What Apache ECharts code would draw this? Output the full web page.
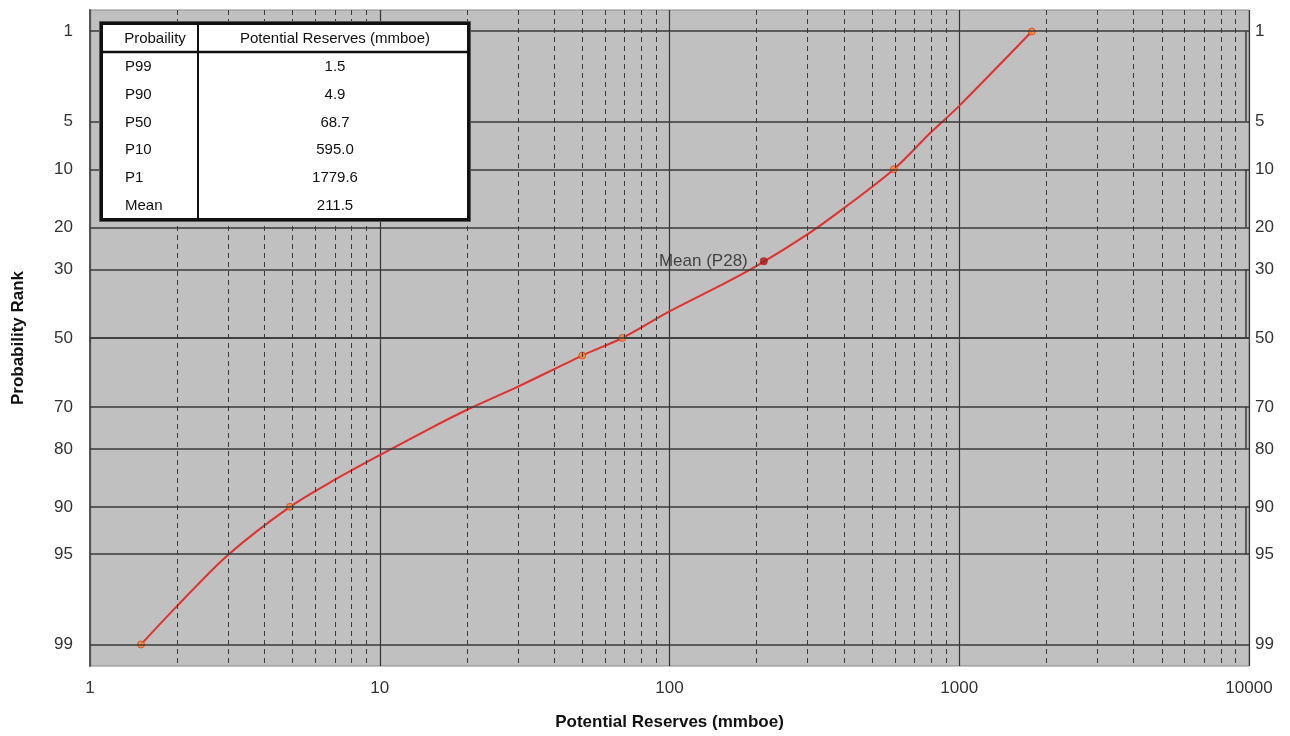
<!DOCTYPE html>
<html>
<head>
<meta charset="utf-8">
<script src="https://cdn.jsdelivr.net/npm/echarts@6/dist/echarts.min.js"></script>
<style>
html,body{margin:0;padding:0;background:#fff;}
#chart{width:1290px;height:736px;}
</style>
</head>
<body>
<div id="chart"></div>
<script>
// ---------- data ----------
const probTicks = [1, 5, 10, 20, 30, 50, 70, 80, 90, 95, 99];
const curveX = [1.5, 2, 3, 4.9, 7, 10, 15, 20, 30, 50, 68.7, 100, 150, 200, 300, 400, 595, 800, 1000, 1779.6];
const curveP = [99, 97.9, 95.0, 90, 85.9, 81.3, 75.3, 70.7, 64.4, 55.3, 50, 42.0, 34.5, 29.2, 21.5, 16.2, 10, 5.9, 3.9, 1];
const keyX = [1.5, 4.9, 50, 68.7, 595, 1779.6];
const keyP = [99, 90, 55.3, 50, 10, 1];
const meanX = 211.5;
const meanP = 28;
const meanLabel = 'Mean (P28)';
const xMinorMultipliers = [2, 3, 4, 5, 6, 7, 8, 9];
const xDecades = [1, 10, 100, 1000];
const rightStepPairs = [[1, 5], [10, 20], [30, 50], [70, 80], [90, 95]];
const tableHeaders = ['Probaility', 'Potential Reserves (mmboe)'];
const tableRows = ['P99', 'P90', 'P50', 'P10', 'P1', 'Mean'];
const tableValues = ['1.5', '4.9', '68.7', '595.0', '1779.6', '211.5'];

// ---------- probability scale (inverse normal) ----------
function invNorm(p) {
  const a=[-3.969683028665376e+01,2.209460984245205e+02,-2.759285104469687e+02,1.383577518672690e+02,-3.066479806614716e+01,2.506628277459239e+00];
  const b=[-5.447609879822406e+01,1.615858368580409e+02,-1.556989798598866e+02,6.680131188771972e+01,-1.328068155288572e+01];
  const c=[-7.784894002430293e-03,-3.223964580411365e-01,-2.400758277161838e+00,-2.549732539343734e+00,4.374664141464968e+00,2.938163982698783e+00];
  const d=[7.784695709041462e-03,3.224671290700398e-01,2.445134137142996e+00,3.754408661907416e+00];
  const pl=0.02425; let q,r;
  if(p<pl){q=Math.sqrt(-2*Math.log(p));return (((((c[0]*q+c[1])*q+c[2])*q+c[3])*q+c[4])*q+c[5])/((((d[0]*q+d[1])*q+d[2])*q+d[3])*q+1);}
  if(p<=1-pl){q=p-0.5;r=q*q;return (((((a[0]*r+a[1])*r+a[2])*r+a[3])*r+a[4])*r+a[5])*q/(((((b[0]*r+b[1])*r+b[2])*r+b[3])*r+b[4])*r+1);}
  q=Math.sqrt(-2*Math.log(1-p));
  return -(((((c[0]*q+c[1])*q+c[2])*q+c[3])*q+c[4])*q+c[5])/((((d[0]*q+d[1])*q+d[2])*q+d[3])*q+1);
}
const Z = p => invNorm(p / 100);
const zTicks = probTicks.map(Z);
function tickLabel(v) {
  for (let i = 0; i < zTicks.length; i++) if (Math.abs(zTicks[i] - v) < 1e-6) return String(probTicks[i]);
  return '';
}

const FONT = 'Liberation Sans, Arial, sans-serif';
const GRID = {left: 90, right: 41, top: 10, bottom: 69};

const minorVals = [];
xDecades.forEach(d => xMinorMultipliers.forEach(m => minorVals.push(m * d)));
const XSTEP = 9770;

// ---------- table graphic ----------
const tX = 101.5, tY = 23.5, tW = 367, tH = 196, colX = 198, headY = 52, rowH = 27.7, row0 = 67;
const graphics = [
  {type:'rect', shape:{x:tX-2, y:tY-2, width:tW+4, height:tH+4}, style:{fill:'none', stroke:'#555', lineWidth:1}, z:10},
  {type:'rect', shape:{x:tX, y:tY, width:tW, height:tH}, style:{fill:'#fff', stroke:'#111', lineWidth:3}, z:10},
  {type:'line', shape:{x1:tX, y1:headY, x2:tX+tW, y2:headY}, style:{stroke:'#111', lineWidth:2.5}, z:11},
  {type:'line', shape:{x1:colX, y1:tY, x2:colX, y2:tY+tH}, style:{stroke:'#111', lineWidth:2}, z:11},
  {type:'text', x:155, y:39, style:{text:tableHeaders[0], font:'15px ' + FONT, fill:'#111', align:'center', verticalAlign:'middle'}, z:12},
  {type:'text', x:335, y:39, style:{text:tableHeaders[1], font:'15px ' + FONT, fill:'#111', align:'center', verticalAlign:'middle'}, z:12}
];
tableRows.forEach((r, i) => {
  graphics.push({type:'text', x:125, y:row0 + i*rowH, style:{text:r, font:'15px ' + FONT, fill:'#111', align:'left', verticalAlign:'middle'}, z:12});
  graphics.push({type:'text', x:335, y:row0 + i*rowH, style:{text:tableValues[i], font:'15px ' + FONT, fill:'#111', align:'center', verticalAlign:'middle'}, z:12});
});

const chart = echarts.init(document.getElementById('chart'));
chart.setOption({
  animation: false,
  backgroundColor: '#fff',
  grid: Object.assign({show: true, backgroundColor: '#c0c0c0', borderColor: '#8a8a8a', borderWidth: 1}, GRID),
  xAxis: {
    type: 'log', logBase: 10, min: 1, max: 10000,
    name: 'Potential Reserves (mmboe)', nameLocation: 'middle', nameGap: 48,
    nameTextStyle: {fontFamily: FONT, fontSize: 17, fontWeight: 'bold', color: '#111'},
    axisLine: {show: true, lineStyle: {color: '#555', width: 2}},
    axisTick: {show: true, length: 5, lineStyle: {color: '#444'}},
    axisLabel: {fontFamily: FONT, fontSize: 17, color: '#333', margin: 14, formatter: v => String(v)},
    splitLine: {show: true, lineStyle: {color: '#333', width: 1.2}},
    minorTick: {show: false}, minorSplitLine: {show: false}
  },
  yAxis: [{
    type: 'value', min: -2.49, max: 2.49, inverse: true, position: 'left',
    name: 'Probability Rank', nameLocation: 'middle', nameGap: 63, nameRotate: 90,
    nameTextStyle: {fontFamily: FONT, fontSize: 17, fontWeight: 'bold', color: '#111'},
    axisLine: {show: true, lineStyle: {color: '#555', width: 2}},
    axisTick: {show: false, customValues: zTicks},
    axisLabel: {customValues: zTicks, formatter: tickLabel, fontFamily: FONT, fontSize: 17, color: '#333', margin: 17},
    splitLine: {show: false}
  }, {
    type: 'value', min: -2.49, max: 2.49, inverse: true, position: 'right',
    axisLine: {show: false},
    axisTick: {show: false, customValues: zTicks},
    axisLabel: {customValues: zTicks, formatter: tickLabel, fontFamily: FONT, fontSize: 17, color: '#333', margin: 6},
    splitLine: {show: false}
  }],
  graphic: graphics,
  series: [
    {
      type: 'line', data: [], z: 1, silent: true,
      markLine: {
        silent: true, symbol: 'none', label: {show: false}, animation: false,
        data: [
          ...zTicks.map(z => ({yAxis: z, lineStyle: {color: '#3a3a3a', width: 1.5, type: 'solid'}})),
          ...minorVals.map(v => ({xAxis: v, lineStyle: {color: '#3a3a3a', width: 1, type: [5, 4]}})),
          ...rightStepPairs.map(pr => [{coord: [XSTEP, Z(pr[0])], lineStyle: {color: '#3a3a3a', width: 1.5, type: 'solid'}}, {coord: [XSTEP, Z(pr[1])]}])
        ]
      }
    },
    {
      type: 'line', smooth: 0.3, symbol: 'none', z: 3,
      lineStyle: {color: '#e03030', width: 2},
      data: curveX.map((x, i) => [x, Z(curveP[i])])
    },
    {
      type: 'scatter', z: 4, symbolSize: 7,
      itemStyle: {color: '#ff8a2a', borderColor: '#d8401a', borderWidth: 1},
      data: keyX.map((x, i) => [x, Z(keyP[i])])
    },
    {
      type: 'scatter', z: 5, symbolSize: 8,
      itemStyle: {color: '#a81818'},
      label: {show: true, position: 'left', distance: 12, formatter: meanLabel, fontFamily: FONT, fontSize: 17, color: '#222'},
      data: [[meanX, Z(meanP)]]
    }
  ]
});
</script>
</body>
</html>
